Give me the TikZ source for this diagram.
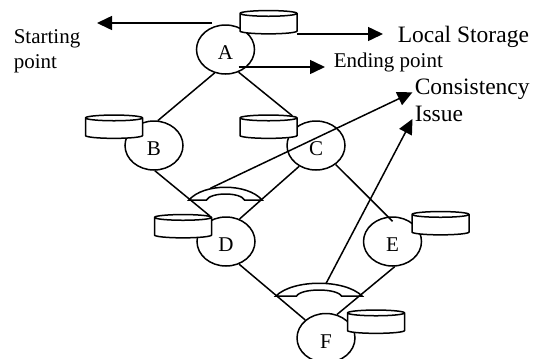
\documentclass[tikz,border=0pt]{standalone}
\usepackage{fontspec}
\setmainfont{Liberation Serif}
\usetikzlibrary{shapes.geometric,arrows.meta}
\tikzset{bridge/.pic={
	\draw (-36.5,0) .. controls (-22,-17) and (22,-17) .. (36.5,0) -- (19,0) .. controls (15,-8) and (-15,-8) .. (-19,0) -- cycle;
	\coordinate (-left) at (-15,-11.8);
	\coordinate (-right) at (6,-12.6);
}}
\begin{document}
\begin{tikzpicture}[x=1bp,y=-1bp,line width=1.5bp,
	main/.style = {draw, ellipse, minimum width=58bp, minimum height=49bp, inner sep=0pt, text height=20bp, text depth=0pt, font=\fontsize{21bp}{25bp}\selectfont},
	store/.style = {draw, fill=white, cylinder, shape border rotate=90, aspect=0.1, text width=57bp, text height=14bp, text depth=0pt, inner sep=0pt},
	small/.style = {align=left, inner sep=1.5bp, font=\fontsize{21bp}{25bp}\selectfont},
	big/.style = {align=left, inner sep=1.5bp, font=\fontsize{23.5bp}{27bp}\selectfont},
	arrow/.style = {-{Triangle[length=15bp,width=14bp]}}]
	\clip (0,0) rectangle (536,358);
	\node[main] (A) at (225.5,49.5) {A};
	\node[main] (B) at (154,145.5) {B};
	\node[main] (C) at (316,145.5) {C};
	\node[main] (D) at (226,241.5) {D};
	\node[main] (E) at (392.5,241.5) {E};
	\node[main] (F) at (326,338) {F};
	\node[store] (storeA) at (268.5,24) {};
	\node[store] (storeB) at (114,128.5) {};
	\node[store] (storeC) at (268.5,128.5) {};
	\node[store] (storeD) at (183,228) {};
	\node[store] (storeE) at (440.5,225) {};
	\node[store] (storeF) at (376,323.5) {};
	\pic (arcD) at (225.5,200) {bridge};
	\pic[xscale=1.18] (arcF) at (319,296) {bridge};
	\node[small,anchor=north west] (start) at (11.5,27) {Starting\\point};
	\node[small,anchor=base west] (ending) at (331.5,67) {Ending point};
	\node[big,anchor=base west] (local) at (395.5,42) {Local Storage};
	\node[big,anchor=north west] (issue) at (412.5,77) {Consistency\\Issue};
	\coordinate (startTip) at (97,23);
	\coordinate (localTip) at (383,34);
	\coordinate (endTip) at (325,67);
	\draw[-] (A.-115) -- (B.81);
	\draw[-] (A.-60) -- (storeC.28);
	\draw[-] (B.-88) -- (storeD.24);
	\draw[-] (C.-129) -- (D.59);
	\draw[-] (C.-44) -- ([yshift=-5bp]E.90);
	\draw[-] (D.-60) -- (F.139);
	\draw[-] (E.-85) -- (F.65);
	\draw[arrow] (startTip -| A.120) -- (startTip);
	\draw[arrow] (localTip -| storeA.-15) -- (localTip);
	\draw[arrow] (endTip -| A.-60) -- (endTip);
	\draw[arrow] (arcD-left) -- (issue.172);
	\draw[arrow] (arcF-right) -- (issue.197);
\end{tikzpicture}
\end{document}
